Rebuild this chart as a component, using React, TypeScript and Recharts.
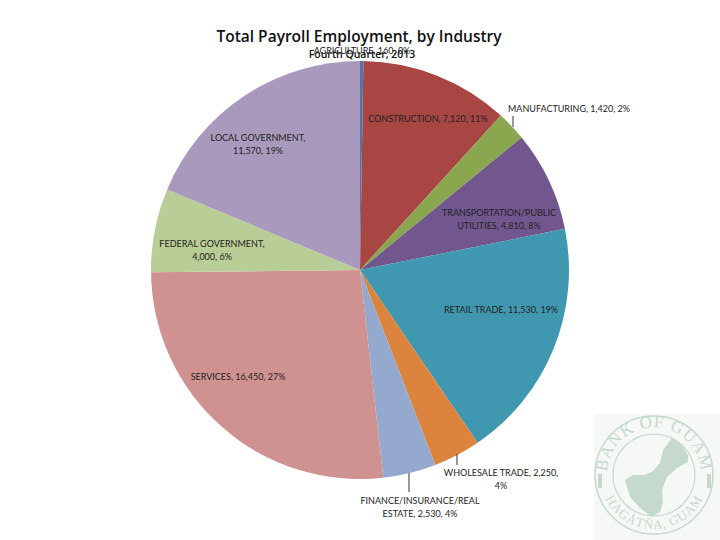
import React from "react";
import { Pie, PieChart, Cell } from "recharts";

const industries = [
    "AGRICULTURE", "CONSTRUCTION", "MANUFACTURING", "TRANSPORTATION/PUBLIC UTILITIES", "RETAIL TRADE",
    "WHOLESALE TRADE", "FINANCE/INSURANCE/REAL ESTATE", "SERVICES", "FEDERAL GOVERNMENT", "LOCAL GOVERNMENT",
];
const employment = [160, 7120, 1420, 4810, 11530, 2250, 2530, 16450, 4000, 11570];
const colors = ["#4F76A8", "#A84644", "#8AA64F", "#72578F", "#4098B0", "#DC843E", "#95A9CF", "#D09291", "#B9CD96", "#A99ABD"];

const labelLines = [
    ["AGRICULTURE, 160, 0%"],
    ["CONSTRUCTION, 7,120, 11%"],
    ["MANUFACTURING, 1,420, 2%"],
    ["TRANSPORTATION/PUBLIC", "UTILITIES, 4,810, 8%"],
    ["RETAIL TRADE, 11,530, 19%"],
    ["WHOLESALE TRADE, 2,250,", "4%"],
    ["FINANCE/INSURANCE/REAL", "ESTATE, 2,530, 4%"],
    ["SERVICES, 16,450, 27%"],
    ["FEDERAL GOVERNMENT,", "4,000, 6%"],
    ["LOCAL GOVERNMENT,", "11,570, 19%"],
];
// centre of each label block
const labelX = [362, 428, 569, 499, 501, 501, 420, 238, 212, 258];
const labelY = [54, 122, 112, 216, 313, 476, 504, 380, 247, 141];
// short leader ticks, only on the slices whose label sits outside
const leaders: Record<number, number[]> = {
    2: [513, 116, 513, 127],
    5: [457, 454, 457, 465],
    6: [409, 473, 409, 492],
};

const data = industries.map((name, i) => ({ name, value: employment[i] }));
const font = "Lato, sans-serif";

function SliceLabel({ index }: any) {
    const line = leaders[index];
    return (
        <g>
            {line && <line x1={line[0]} y1={line[1]} x2={line[2]} y2={line[3]} stroke="#333" strokeWidth={1} />}
            <text x={labelX[index]} y={labelY[index]} textAnchor="middle" fontFamily={font} fontSize={9} fill="#222">
                {labelLines[index].map((t, i) => (
                    <tspan key={i} x={labelX[index]} dy={i === 0 ? 0 : 13}>{t}</tspan>
                ))}
            </text>
        </g>
    );
}

function Logo() {
    const c = "#C5DACD";
    return (
        <svg width={126} height={126} viewBox="0 0 126 126" style={{ position: "absolute", left: 594, top: 414 }}>
            <rect width={126} height={126} fill="#F6F8F6" />
            <circle cx={60} cy={61} r={59} fill="none" stroke={c} strokeWidth={1.5} />
            <circle cx={60} cy={61} r={41} fill="none" stroke={c} strokeWidth={1.2} />
            <defs>
                <path id="bankArc" d="M 14 70 A 47 47 0 1 1 106 70" />
                <path id="hagArc" d="M 6 61 A 54 54 0 0 0 114 61" />
            </defs>
            <text fontFamily="Liberation Serif, serif" fontSize={17} fill={c} letterSpacing={1}>
                <textPath href="#bankArc" startOffset="50%" textAnchor="middle">BANK OF GUAM</textPath>
            </text>
            <text fontFamily="Liberation Serif, serif" fontSize={13} fill={c} letterSpacing={0.8}>
                <textPath href="#hagArc" startOffset="50%" textAnchor="middle">HAGÅTÑA, GUAM</textPath>
            </text>
            <path d="M 78 24 L 86 29 L 94 41 L 94 48 L 83 54 L 73 63 L 68 76 L 69 89 L 66 98 L 58 103 L 46 94 L 36 83 L 31 66 L 39 61 L 49 61 L 58 58 L 66 49 L 69 36 Z" fill={c} />
            <rect x={4} y={60} width={4} height={14} fill={c} />
            <rect x={113} y={60} width={4} height={14} fill={c} />
        </svg>
    );
}

export default function App() {
    return (
        <div style={{ position: "absolute", left: 0, top: 0, width: 720, height: 540, background: "#fff" }}>
            <PieChart width={720} height={540} margin={{ top: 0, right: 0, bottom: 0, left: 0 }}>
                <Pie
                    data={data}
                    dataKey="value"
                    nameKey="name"
                    cx={360}
                    cy={270}
                    innerRadius={0}
                    outerRadius={209}
                    startAngle={90}
                    endAngle={-270}
                    stroke="none"
                    label={SliceLabel}
                    labelLine={false}
                    isAnimationActive={false}
                >
                    {data.map((d, i) => (
                        <Cell key={d.name} fill={colors[i]} />
                    ))}
                </Pie>
                <text x={359} y={42} textAnchor="middle" fontFamily="'Open Sans', sans-serif" fontWeight={600} fontSize={15.5} fill="#111">
                    Total Payroll Employment, by Industry
                </text>
                <text x={362} y={58} textAnchor="middle" fontFamily="'Open Sans', sans-serif" fontWeight={600} fontSize={10.5} fill="#111">
                    Fourth Quarter, 2013
                </text>
            </PieChart>
            <Logo />
        </div>
    );
}
